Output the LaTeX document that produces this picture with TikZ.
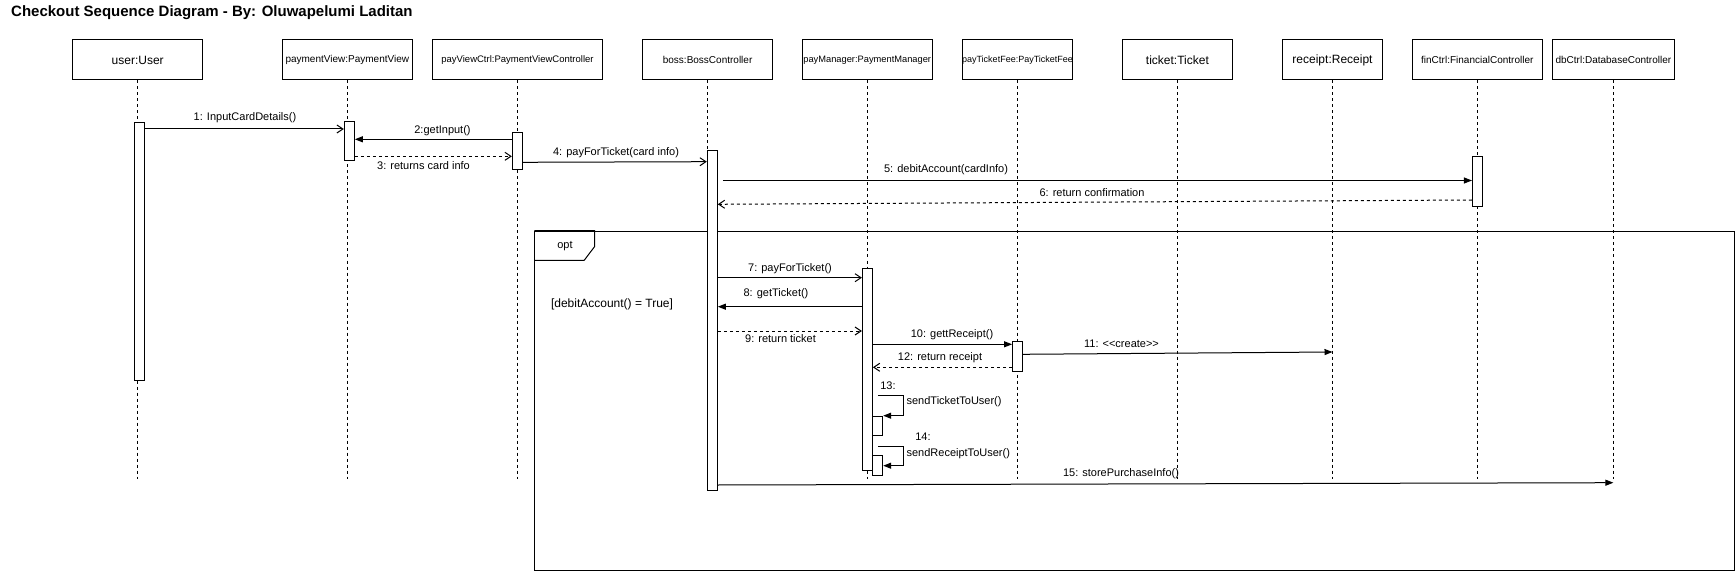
\documentclass[tikz,border=0pt]{standalone}
\usepackage{fontspec}
\setmainfont{Liberation Sans}
\usetikzlibrary{arrows.meta}
\begin{document}
\begin{tikzpicture}[x=1pt,y=-1pt,
  obj/.style={draw, line width=1pt, minimum height=40pt, inner sep=0pt, font=\fontsize{10}{12}\selectfont},
  objL/.style={obj, font=\fontsize{12}{14}\selectfont},
  life/.style={line width=1pt, dash pattern=on 3pt off 3pt},
  act/.style={draw, fill=white, line width=1pt, inner sep=0pt, minimum width=10pt, anchor=north},
  msg/.style={line width=1pt, -{Triangle[length=8pt,width=6pt]}},
  omsg/.style={line width=1pt, -{Straight Barb[length=6pt,width=8pt]}},
  ret/.style={omsg, dash pattern=on 3pt off 3pt},
  lbl/.style={inner sep=0pt, font=\fontsize{11}{13}\selectfont},
  frame/.style={draw, line width=1pt}
]
\useasboundingbox (0,0) rectangle (1735,572);

% title
\node[anchor=base west, inner sep=0pt, font=\fontsize{15}{18}\selectfont\bfseries] (title) at (11,17) {Checkout Sequence Diagram - By: Oluwapelumi Laditan};

% opt frame
\node[frame, anchor=north west, inner sep=0pt, minimum width=1199.9pt, minimum height=339.3pt] (optframe) at (534.4,230.7) {};
\draw[line width=1pt] (optframe.north west) -- ++(60.1,0) -- ++(0,16) -- ++(-10.3,13.6) -- ++(-49.8,0);
\node[lbl] (optlbl) at (565,246) {opt};
\node[inner sep=0pt, font=\fontsize{12}{14}\selectfont] (cond) at (612,304) {[debitAccount() = True]};

% objects
\node[objL, minimum width=130pt] (user) at (137.7,60) {user:User};
\node[obj, minimum width=130pt] (pview) at (347.3,60) {paymentView:PaymentView};
\node[obj, minimum width=170pt, font=\fontsize{9.5}{11}\selectfont] (pctrl) at (517.5,60) {payViewCtrl:PaymentViewController};
\node[obj, minimum width=130pt] (boss) at (707.6,60) {boss:BossController};
\node[obj, minimum width=130pt, font=\fontsize{9.3}{11}\selectfont] (pman) at (867.2,60) {payManager:PaymentManager};
\node[obj, minimum width=110pt, font=\fontsize{9}{11}\selectfont] (ptf) at (1017.5,60) {payTicketFee:PayTicketFee};
\node[objL, minimum width=110pt] (ticket) at (1177.4,60) {ticket:Ticket};
\node[objL, minimum width=100pt] (receipt) at (1332.5,60) {receipt:Receipt};
\node[obj, minimum width=130pt] (fin) at (1477.3,60) {finCtrl:FinancialController};
\node[obj, minimum width=122pt] (db) at (1613.4,60) {dbCtrl:DatabaseController};

% lifelines
\coordinate (lend) at (0,479);
\foreach \o in {user,pview,pctrl,boss,pman,ptf,ticket,receipt,fin,db}
  \draw[life] (\o.south) -- (\o.south |- lend);

% activations
\node[act, minimum height=257.8pt] (uact) at (139.7,121.7) {};
\node[act, minimum height=39pt] (pvact) at (349.3,121.2) {};
\node[act, minimum height=37.3pt] (pcact) at (517.3,131.7) {};
\node[act, minimum height=340pt] (bact) at (712.3,150.3) {};
\node[act, minimum height=49.8pt] (fact) at (1477.45,156) {};
\node[act, minimum height=202.3pt] (pmact) at (867.4,267.7) {};
\node[act, minimum height=29.7pt] (ptact) at (1017.6,341.3) {};
\node[act, minimum height=19.6pt] (s13) at (877.7,415.7) {};
\node[act, minimum height=19.7pt] (s14) at (877.7,455.3) {};

% messages
\draw[omsg] (uact.east |- 0,129) -- (pvact.west |- 0,129);
\node[lbl] (l1) at (245,118) {1: InputCardDetails()};

\draw[msg] (pcact.west |- 0,139.3) -- (pvact.east |- 0,139.3);
\node[lbl] (l2) at (442.5,130.5) {2:getInput()};

\draw[ret] (pvact.east |- 0,156.3) -- (pcact.west |- 0,156.3);
\node[lbl] (l3) at (423.5,165.5) {3: returns card info};

\draw[omsg] (pcact.east |- 0,162.3) -- (bact.west |- 0,161.7);
\node[lbl] (l4) at (616,153) {4: payForTicket(card info)};

\draw[msg, shorten <=5pt] (bact.east |- 0,180.5) -- (fact.west |- 0,180.5);
\node[lbl] (l5) at (946,170) {5: debitAccount(cardInfo)};

\draw[ret] (fact.west |- 0,200) -- (bact.east |- 0,204.3);
\node[lbl] (l6) at (1092,193) {6: return confirmation};

\draw[omsg] (bact.east |- 0,277.7) -- (pmact.west |- 0,277.7);
\node[lbl] (l7) at (790,269) {7: payForTicket()};

\draw[msg] (pmact.west |- 0,306.7) -- (bact.east |- 0,306.7);
\node[lbl] (l8) at (776,294) {8: getTicket()};

\draw[ret] (bact.east |- 0,331) -- (pmact.west |- 0,331);
\node[lbl] (l9) at (780.5,339) {9: return ticket};

\draw[msg] (pmact.east |- 0,344.3) -- (ptact.west |- 0,344.3);
\node[lbl] (l10) at (952,335) {10: gettReceipt()};

\draw[msg] (ptact.east |- 0,354.3) -- (receipt.south |- 0,352);
\node[lbl] (l11) at (1121.5,344) {11: <\kern0pt<create>\kern0pt>};

\draw[ret] (ptact.west |- 0,367.3) -- (pmact.east |- 0,367.3);
\node[lbl] (l12) at (940,358) {12: return receipt};

\draw[msg, shorten <=5pt] (pmact.east |- 0,395.7) -- ++(30.2,0) -- ++(0,20) -- (s13.north east);
\node[lbl] (l13) at (888,386) {13:};
\node[lbl, anchor=west] (l13b) at (906.4,402) {sendTicketToUser()};

\draw[msg, shorten <=5pt] (pmact.east |- 0,446) -- ++(30.2,0) -- ++(0,19.7) -- (s14.east |- 0,465.7);
\node[lbl] (l14) at (923,436.7) {14:};
\node[lbl, anchor=west] (l14b) at (906.4,453.3) {sendReceiptToUser()};

\draw[msg] (bact.east |- 0,485) -- (db.south |- 0,482.7);
\node[lbl] (l15) at (1121,474) {15: storePurchaseInfo()};
\end{tikzpicture}
\end{document}
